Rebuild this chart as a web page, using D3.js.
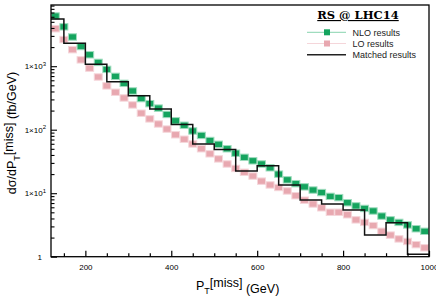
<!DOCTYPE html>
<html>
<head>
<meta charset="utf-8">
<script src="https://cdn.jsdelivr.net/npm/d3@7"></script>
<style>
  body { margin: 0; background: #fff; }
  svg { display: block; font-family: "Liberation Sans", Arial, sans-serif; }
</style>
</head>
<body>
<div id="chart"></div>
<script>
// bin centres of the NLO / LO points (GeV), 20 GeV apart
const ptCenters = d3.range(130, 1000, 20);

// log10 of dσ/dPT (fb/GeV)
const nloLog = [3.79, 3.62, 3.46, 3.31, 3.18, 3.06, 2.95, 2.84, 2.73, 2.61, 2.49, 2.41, 2.34, 2.24, 2.14,
  2.07, 1.98, 1.91, 1.83, 1.77, 1.70, 1.63, 1.565, 1.51, 1.46, 1.40, 1.30, 1.21, 1.15, 1.10, 1.05, 1.01,
  0.95, 0.93, 0.85, 0.80, 0.76, 0.72, 0.64, 0.58, 0.54, 0.50, 0.44, 0.40];
const loLog = [3.59, 3.42, 3.26, 3.10, 2.97, 2.83, 2.69, 2.59, 2.50, 2.39, 2.26, 2.17, 2.09, 2.01, 1.92,
  1.85, 1.775, 1.70, 1.62, 1.54, 1.46, 1.39, 1.33, 1.27, 1.19, 1.13, 1.09, 1.035, 0.96, 0.89, 0.83, 0.77,
  0.70, 0.70, 0.66, 0.58, 0.54, 0.49, 0.40, 0.34, 0.28, 0.24, 0.19, 0.14];

// matched histogram, 50 GeV bins
const matchedEdges = d3.range(100, 1001, 50);
const matchedLog = [3.743, 3.36, 3.03, 2.756, 2.535, 2.326, 2.08, 1.775, 1.69, 1.35, 1.433, 1.13,
  0.893, 0.83, 0.735, 0.342, 0.535, 0.04];

const xTicks = [200, 400, 600, 800, 1000];
const yTicks = [1, 10, 100, 1000];
const yTickLabels = ['1', '1×10', '1×10', '1×10'];
const yTickPowers = ['', '1', '2', '3'];

const width = 436;
const height = 308;
const margin = { top: 5, right: 7, bottom: 51.3, left: 51 };
const innerW = width - margin.left - margin.right;
const innerH = height - margin.top - margin.bottom;

const GREEN = '#14a45e';
const GREEN_LIGHT = '#9fdcbe';
const PINK = '#e8a8b0';
const PINK_LIGHT = '#f5d6da';

const svg = d3.select('#chart').append('svg').attr('width', width).attr('height', height);
const g = svg.append('g').attr('transform', `translate(${margin.left},${margin.top})`);

const x = d3.scaleLinear().domain([120, 1000]).range([0, innerW]);
const y = d3.scaleLog().domain([1, 9200]).range([innerH, 0]);

g.append('clipPath').attr('id', 'plot-clip')
  .append('rect').attr('width', innerW).attr('height', innerH);

const plot = g.append('g').attr('clip-path', 'url(#plot-clip)');

function drawMarkers(values, fill, halo) {
  const w = (x(150) - x(130)) / 2 - 0.3;
  plot.append('g')
    .selectAll('rect')
    .data(ptCenters.map((c, i) => [c, Math.pow(10, values[i])]))
    .join('rect')
    .attr('x', (d) => x(d[0]) - w)
    .attr('y', (d) => y(d[1]) - 3.2)
    .attr('width', w * 2)
    .attr('height', 6.4)
    .attr('fill', fill)
    .attr('stroke', halo)
    .attr('stroke-width', 1);
}

drawMarkers(loLog, PINK, PINK_LIGHT);
drawMarkers(nloLog, GREEN, GREEN_LIGHT);

const steps = [];
matchedLog.forEach((v, i) => {
  steps.push([matchedEdges[i], Math.pow(10, v)]);
  steps.push([matchedEdges[i + 1], Math.pow(10, v)]);
});
steps.push([1000, 0.9]);

plot.append('path')
  .attr('d', d3.line().x((d) => x(d[0])).y((d) => y(d[1]))(steps))
  .attr('fill', 'none')
  .attr('stroke', '#111')
  .attr('stroke-width', 1.5);

// frame
g.append('rect')
  .attr('width', innerW).attr('height', innerH)
  .attr('fill', 'none').attr('stroke', '#000').attr('stroke-width', 1.3);

// x axis ticks (inside)
const xMinor = d3.range(150, 1000, 50).filter((v) => !xTicks.includes(v));
const xAxisG = g.append('g').attr('transform', `translate(0,${innerH})`);
xAxisG.call(d3.axisBottom(x).tickValues(xTicks).tickSize(-6).tickPadding(11).tickFormat(d3.format('d')));
xAxisG.append('g').call(d3.axisBottom(x).tickValues(xMinor).tickSize(-3.5).tickFormat(''));
xAxisG.selectAll('.domain').remove();
xAxisG.selectAll('line').attr('stroke', '#000').attr('stroke-width', 1.2);
xAxisG.selectAll('text').attr('font-size', 8).attr('fill', '#000').attr('dy', '0.3em');

// y axis ticks (inside)
const yMinor = [];
[1, 10, 100, 1000].forEach((d) => d3.range(2, 10).forEach((k) => { if (d * k < 9200) yMinor.push(d * k); }));
const yAxisG = g.append('g');
yAxisG.call(d3.axisLeft(y).tickValues(yTicks).tickSize(-6).tickPadding(6).tickFormat(''));
yAxisG.append('g').call(d3.axisLeft(y).tickValues(yMinor).tickSize(-3.5).tickFormat(''));
yAxisG.selectAll('.domain').remove();
yAxisG.selectAll('line').attr('stroke', '#000').attr('stroke-width', 1.1);

const yLabels = g.append('g').attr('font-size', 8).attr('fill', '#000').attr('text-anchor', 'end');
yTicks.forEach((t, i) => {
  const txt = yLabels.append('text')
    .attr('x', yTickPowers[i] ? -5 : -9)
    .attr('y', y(t) + 3);
  txt.append('tspan').text(yTickLabels[i]);
  if (yTickPowers[i]) {
    txt.append('tspan').attr('font-size', 6).attr('dy', -3.5).text(yTickPowers[i]);
  }
});

// axis titles
const xTitle = svg.append('text')
  .attr('x', 196).attr('y', 290)
  .attr('font-size', 12.5).attr('fill', '#000');
xTitle.append('tspan').text('P');
xTitle.append('tspan').attr('font-size', 9).attr('dy', 3.5).text('T');
xTitle.append('tspan').attr('dy', -6.5).text('[miss]');
xTitle.append('tspan').attr('dy', 5.5).text(' (GeV)');

const yTitle = svg.append('text')
  .attr('transform', 'translate(16,133) rotate(-90)')
  .attr('text-anchor', 'middle')
  .attr('font-size', 12.5).attr('fill', '#000');
yTitle.append('tspan').text('dσ/dP');
yTitle.append('tspan').attr('font-size', 9).attr('dy', 3.5).text('T');
yTitle.append('tspan').attr('dy', -6.5).text('[miss]');
yTitle.append('tspan').attr('dy', 3).text(' (fb/GeV)');

// legend
const legend = svg.append('g');
legend.append('text')
  .attr('x', 358).attr('y', 19)
  .attr('text-anchor', 'middle')
  .attr('font-family', '"DejaVu Serif", "Liberation Serif", serif')
  .attr('font-weight', 'bold')
  .attr('font-size', 11.5)
  .attr('text-decoration', 'underline')
  .text('RS @ LHC14');

const legendItems = [
  { label: 'NLO results', line: GREEN_LIGHT, marker: GREEN },
  { label: 'LO results', line: PINK_LIGHT, marker: PINK },
  { label: 'Matched results', line: '#222', marker: null }
];
legendItems.forEach((item, i) => {
  const ly = 32.3 + i * 11.2;
  legend.append('line')
    .attr('x1', 307).attr('x2', 346).attr('y1', ly).attr('y2', ly)
    .attr('stroke', item.line).attr('stroke-width', item.marker ? 1.2 : 1.6);
  if (item.marker) {
    legend.append('rect')
      .attr('x', 324).attr('y', ly - 3).attr('width', 6).attr('height', 6)
      .attr('fill', item.marker);
  }
  legend.append('text')
    .attr('x', 352.5).attr('y', ly + 3.2)
    .attr('font-size', 9).attr('fill', '#222')
    .text(item.label);
});
</script>
</body>
</html>
